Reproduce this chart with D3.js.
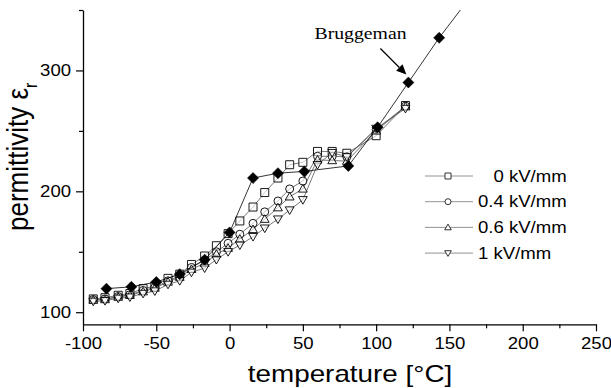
<!DOCTYPE html>
<html>
<head>
<meta charset="utf-8">
<script src="https://cdn.jsdelivr.net/npm/d3@7"></script>
<style>
  html, body { margin: 0; padding: 0; background: #fff; }
  svg { display: block; }
  text { font-family: "Liberation Sans", Arial, Helvetica, sans-serif; fill: #000; }
</style>
</head>
<body>
<svg id="chart" width="611" height="388"></svg>
<script>
// Measured temperatures (°C) shared by the four field series
const temps = [-93, -85, -76, -68, -59, -51, -42, -34, -26, -17, -9, -1, 7, 16, 24, 33, 41, 50, 60, 70, 80, 100, 120];

// Relative permittivity under bias field
const eps0kV  = [111, 112, 114, 115.5, 119.5, 121.5, 128, 131.5, 139.5, 146.5, 155, 165, 175.5, 187, 199, 211, 222, 224, 233, 233, 231.5, 246, 271];
const eps04kV = [110.5, 111, 113, 114.5, 118, 120.5, 126, 130, 137, 143, 150, 157, 164.5, 173.5, 183, 192, 202, 208.5, 229, 229, 228.5, 251, 270.5];
const eps06kV = [110, 110.5, 112.5, 114, 117, 120, 125, 129, 135.5, 140.5, 148, 153, 160.5, 168.5, 177, 186.5, 195.5, 202, 226, 225.5, 225, 250, 270];
const eps1kV  = [109, 109.5, 111.5, 112.5, 115.5, 117.5, 123, 126, 133, 136.5, 143.5, 150, 155.5, 162.5, 169.5, 177, 184.5, 193, 222, 232, 228.5, 252, 268.5];

const seriesLabels = ["   0 kV/mm", "0.4 kV/mm", "0.6 kV/mm", "1 kV/mm"];
const seriesSymbols = ["square", "circle", "triangle", "triangleDown"];

// Bruggeman effective-medium estimate
const bruggemanT = [-84, -67, -50, -34, -17, 0, 16, 33, 51, 81, 101, 122, 143];
const bruggemanV = [119.5, 121, 125, 131.5, 143.5, 166, 211, 215, 216.5, 221, 253, 290, 327];
// the curve continues past the top of the frame
const bruggemanTailT = [165];
const bruggemanTailV = [362];

const xTicks = [-100, -50, 0, 50, 100, 150, 200, 250];
const xMinor = [-75, -25, 25, 75, 125, 175, 225];
const yTicks = [100, 200, 300];
const yMinor = [150, 250, 350];

const SX = 1.16; // horizontal glyph stretch
const tickFmt = d => String(d); // plain hyphen-minus

const svg = d3.select("#chart");
const plotLeft = 83, plotRight = 596, plotTop = 10, plotBottom = 324.3;

const x = d3.scaleLinear().domain([-100, 250]).range([plotLeft, plotRight]);
const y = d3.scaleLinear().domain([90, 350]).range([plotBottom, plotTop]);

svg.append("defs").append("clipPath").attr("id", "plotClip")
  .append("rect").attr("x", plotLeft).attr("y", plotTop)
  .attr("width", plotRight - plotLeft).attr("height", plotBottom - plotTop);

// ---- axes ----
const gx = svg.append("g").attr("transform", `translate(0,${plotBottom})`);
gx.call(d3.axisBottom(x).tickValues(xTicks).tickSize(7).tickSizeOuter(0).tickPadding(6).tickFormat(tickFmt));
gx.append("g").call(d3.axisBottom(x).tickValues(xMinor).tickSize(4).tickSizeOuter(0).tickFormat(""))
  .select(".domain").remove();

const gy = svg.append("g").attr("transform", `translate(${plotLeft},0)`);
gy.call(d3.axisLeft(y).tickValues(yTicks).tickSize(7).tickSizeOuter(0).tickPadding(3).tickFormat(tickFmt));
gy.append("g").call(d3.axisLeft(y).tickValues(yMinor).tickSize(4).tickSizeOuter(0).tickFormat(""))
  .select(".domain").remove();

svg.selectAll(".domain").attr("stroke", "#000").attr("stroke-width", 1.3);
svg.selectAll(".tick line").attr("stroke", "#000").attr("stroke-width", 1.2);
svg.selectAll(".tick text")
  .style("font-family", "'Liberation Sans', Arial, sans-serif")
  .attr("font-size", 16)
  .attr("fill", "#000");
gx.selectAll(".tick text").attr("transform", `scale(${SX},1)`);
gy.selectAll(".tick text").attr("x", -12 / SX).attr("transform", `scale(${SX},1)`);

// axis titles
svg.append("text")
  .attr("transform", `translate(350,382) scale(${SX},1)`)
  .attr("text-anchor", "middle")
  .attr("font-size", 24)
  .text("temperature [°C]");

const yTitle = svg.append("text")
  .attr("transform", `translate(28,231) rotate(-90) scale(1,${SX})`)
  .attr("text-anchor", "start")
  .attr("font-size", 26);
yTitle.append("tspan").text("permittivity ε");
yTitle.append("tspan").attr("font-size", 16).attr("dy", 8).text("r");

// ---- symbols ----
function symbolPath(kind, s) {
  const h = s / 2;
  switch (kind) {
    case "square": return `M${-h},${-h}H${h}V${h}H${-h}Z`;
    case "circle": return `M${h},0A${h},${h} 0 1,1 ${-h},0A${h},${h} 0 1,1 ${h},0Z`;
    case "triangle": return `M0,${-h * 1.1}L${h * 1.1},${h * 0.8}L${-h * 1.1},${h * 0.8}Z`;
    case "triangleDown": return `M0,${h * 1.1}L${h * 1.1},${-h * 0.8}L${-h * 1.1},${-h * 0.8}Z`;
    case "diamond": return `M0,${-h}L${h},0L0,${h}L${-h},0Z`;
  }
}

const plot = svg.append("g").attr("clip-path", "url(#plotClip)");
const line = d3.line().x(d => x(d[0])).y(d => y(d[1]));

const measured = [eps0kV, eps04kV, eps06kV, eps1kV].map(vals => temps.map((t, i) => [t, vals[i]]));

// connecting lines first
measured.forEach(pts => {
  plot.append("path").attr("d", line(pts))
    .attr("fill", "none").attr("stroke", "#555").attr("stroke-width", 0.8);
});
// open symbols
measured.forEach((pts, k) => {
  plot.append("g").selectAll("path").data(pts).join("path")
    .attr("transform", d => `translate(${x(d[0])},${y(d[1])})`)
    .attr("d", symbolPath(seriesSymbols[k], 8))
    .attr("fill", "#fff").attr("fill-opacity", 0.6)
    .attr("stroke", "#000").attr("stroke-width", 0.9);
});

// Bruggeman curve with filled diamonds
const brug = bruggemanT.map((t, i) => [t, bruggemanV[i]]);
const brugLine = brug.concat(bruggemanTailT.map((t, i) => [t, bruggemanTailV[i]]));
plot.append("path").attr("d", line(brugLine))
  .attr("fill", "none").attr("stroke", "#000").attr("stroke-width", 0.8);
plot.append("g").selectAll("path").data(brug).join("path")
  .attr("transform", d => `translate(${x(d[0])},${y(d[1])})`)
  .attr("d", symbolPath("diamond", 11))
  .attr("fill", "#000").attr("stroke", "#000").attr("stroke-width", 0.6);

// annotation
const labelT = 122, labelV = 290;
svg.append("text")
  .attr("transform", `translate(360.5,38.5) scale(${SX},1)`)
  .attr("text-anchor", "middle")
  .style("font-family", "'Liberation Serif', 'Times New Roman', serif")
  .attr("font-size", 17)
  .text("Bruggeman");
const ax2 = x(labelT) - 2, ay2 = y(labelV) - 8;
const ax1 = ax2 - 26, ay1 = ay2 - 26;
const ang = Math.atan2(ay2 - ay1, ax2 - ax1);
const hl = 10, hw = 4.5;
svg.append("line")
  .attr("x1", ax1).attr("y1", ay1)
  .attr("x2", ax2 - hl * Math.cos(ang)).attr("y2", ay2 - hl * Math.sin(ang))
  .attr("stroke", "#000").attr("stroke-width", 1.2);
const bx = ax2 - hl * Math.cos(ang), by = ay2 - hl * Math.sin(ang);
svg.append("path")
  .attr("d", `M${ax2},${ay2}L${bx + hw * Math.sin(ang)},${by - hw * Math.cos(ang)}L${bx - hw * Math.sin(ang)},${by + hw * Math.cos(ang)}Z`)
  .attr("fill", "#000");

// ---- legend ----
const legend = svg.append("g");
seriesLabels.forEach((lab, k) => {
  const cy = 176 + k * 25.7;
  legend.append("line").attr("x1", 425).attr("x2", 473).attr("y1", cy).attr("y2", cy)
    .attr("stroke", "#777").attr("stroke-width", 0.8);
  legend.append("path").attr("transform", `translate(448,${cy})`)
    .attr("d", symbolPath(seriesSymbols[k], 6))
    .attr("fill", "#fff").attr("stroke", "#000").attr("stroke-width", 0.8);
  legend.append("text")
    .attr("transform", `translate(478,${cy + 5.7}) scale(${SX},1)`)
    .attr("font-size", 16)
    .style("white-space", "pre")
    .text(lab);
});
</script>
</body>
</html>
